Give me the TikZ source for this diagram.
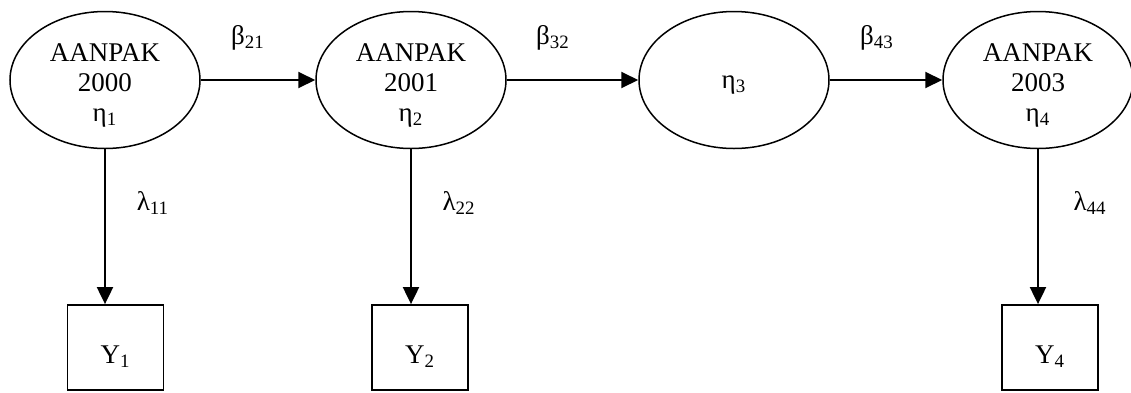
\documentclass[tikz,border=0pt]{standalone}
\usepackage{fontspec}
\setmainfont{Liberation Serif}
\usetikzlibrary{arrows.meta,shapes.geometric}
\begin{document}
\begin{tikzpicture}[x=0.5pt,y=-0.5pt,
  txt/.style={font=\fontsize{13.5pt}{15pt}\selectfont},
  latent/.style={ellipse, draw, line width=0.75pt, minimum width=95pt,
    minimum height=68.5pt, inner sep=0pt,
    label={[txt, align=center, yshift=-2.5pt]center:#1}},
  observed/.style={rectangle, draw, line width=0.9pt, minimum width=48pt,
    minimum height=42.5pt, inner sep=0pt, text height=16pt, text depth=0pt,
    txt},
  link/.style={line width=1pt, -{Triangle[length=8.5pt,width=8pt]}},
  coef/.style={txt, inner sep=0pt}]
  \useasboundingbox (0,0) rectangle (1131,392);

  % latent variables
  \node[latent={AANPAK\\2000\\η\textsubscript{1}}] (e1) at (105,80) {};
  \node[latent={AANPAK\\2001\\η\textsubscript{2}}] (e2) at (411,80) {};
  \node[latent={η\textsubscript{3}}] (e3) at (734,80) {};
  \node[latent={AANPAK\\2003\\η\textsubscript{4}}] (e4) at (1038,80) {};

  % indicators
  \node[observed] (b1) at (115.5,347.5) {Y\textsubscript{1}};
  \node[observed] (b2) at (420,347.5) {Y\textsubscript{2}};
  \node[observed] (b4) at (1050,347.5) {Y\textsubscript{4}};

  % structural paths
  \draw[link] (e1) -- (e2);
  \draw[link] (e2) -- (e3);
  \draw[link] (e3) -- (e4);

  % measurement paths
  \draw[link] (e1.south) -- (e1.south |- b1.north);
  \draw[link] (e2.south) -- (e2.south |- b2.north);
  \draw[link] (e4.south) -- (e4.south |- b4.north);

  % coefficients
  \node[coef] (l21) at (248,38) {β\textsubscript{21}};
  \node[coef] (l32) at (553,38) {β\textsubscript{32}};
  \node[coef] (l43) at (877,38) {β\textsubscript{43}};
  \node[coef] (k11) at (153,203) {λ\textsubscript{11}};
  \node[coef] (k22) at (459,203) {λ\textsubscript{22}};
  \node[coef] (k44) at (1090,203) {λ\textsubscript{44}};
\end{tikzpicture}
\end{document}
